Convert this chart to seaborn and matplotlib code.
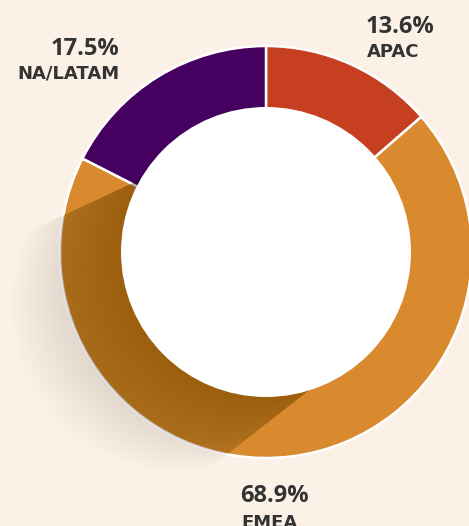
import numpy as np
import seaborn as sns
import matplotlib
matplotlib.use("Agg")
import matplotlib.pyplot as plt
from matplotlib.patches import Circle, Polygon

# data
regions = ["APAC", "EMEA", "NA/LATAM"]
shares = [13.6, 68.9, 17.5]
colors = ["#c63f20", "#d98a2e", "#46005f"]

bg = "#fcf1e7"
sns.set_theme(style="white")
plt.rcParams["font.family"] = ["Open Sans", "DejaVu Sans"]

fig = plt.figure(figsize=(4.69, 5.26), dpi=100, facecolor=bg)
ax = fig.add_axes([0, 0, 1, 1])
ax.set_facecolor(bg)

cx, cy = 266, 274
r_out, r_in = 206, 145

wedges, _ = ax.pie(shares, colors=colors, startangle=90, counterclock=False,
                   center=(cx, cy), radius=r_out, frame=True,
                   wedgeprops=dict(edgecolor="white", linewidth=1.8))
ax.set_xlim(0, 469)
ax.set_ylim(0, 526)
ax.set_axis_off()


def shadow_poly(length, a1=150, a2=287, d1=205, d2=218):
    # long shadow of the hole, cast toward the lower left
    pts = [(cx, cy), (cx + r_in * np.cos(np.deg2rad(a1)), cy + r_in * np.sin(np.deg2rad(a1)))]
    for a in np.linspace(a1, a2, 60):
        d = np.deg2rad(d1 + (a - a1) / (a2 - a1) * (d2 - d1))
        ar = np.deg2rad(a)
        pts.append((cx + r_in * np.cos(ar) + length * np.cos(d),
                    cy + r_in * np.sin(ar) + length * np.sin(d)))
    pts.append((cx + r_in * np.cos(np.deg2rad(a2)), cy + r_in * np.sin(np.deg2rad(a2))))
    return pts


ring_clip = Circle((cx, cy), r_out, transform=ax.transData)
hard = Polygon(shadow_poly(220), closed=True, facecolor="#2a1000",
               edgecolor="none", alpha=0.14, zorder=3)
ax.add_patch(hard)
hard.set_clip_path(ring_clip)

for s in np.arange(5, 130, 5):
    ax.add_patch(Polygon(shadow_poly(s), closed=True, facecolor="#2a1a0a",
                         edgecolor="none", alpha=0.007, zorder=3))

ax.add_patch(Circle((cx, cy), r_in, facecolor="white", edgecolor="none", zorder=4))

# labels
txt = "#333333"
pct = dict(fontsize=17, fontweight="bold", color=txt, va="baseline")
lab = dict(fontsize=13, fontweight="bold", color=txt, va="baseline",
           family=["DejaVu Sans"])
ax.text(366, 526 - 33, "13.6%", ha="left", **pct)
ax.text(367, 526 - 57, "APAC", ha="left", **lab)
ax.text(119, 526 - 55, "17.5%", ha="right", **pct)
ax.text(119, 526 - 79, "NA/LATAM", ha="right", **lab)
ax.text(240, 526 - 502, "68.9%", ha="left", **pct)
ax.text(241, 526 - 528, "EMEA", ha="left", **lab)

fig.savefig("out.png", dpi=100, facecolor=bg)
